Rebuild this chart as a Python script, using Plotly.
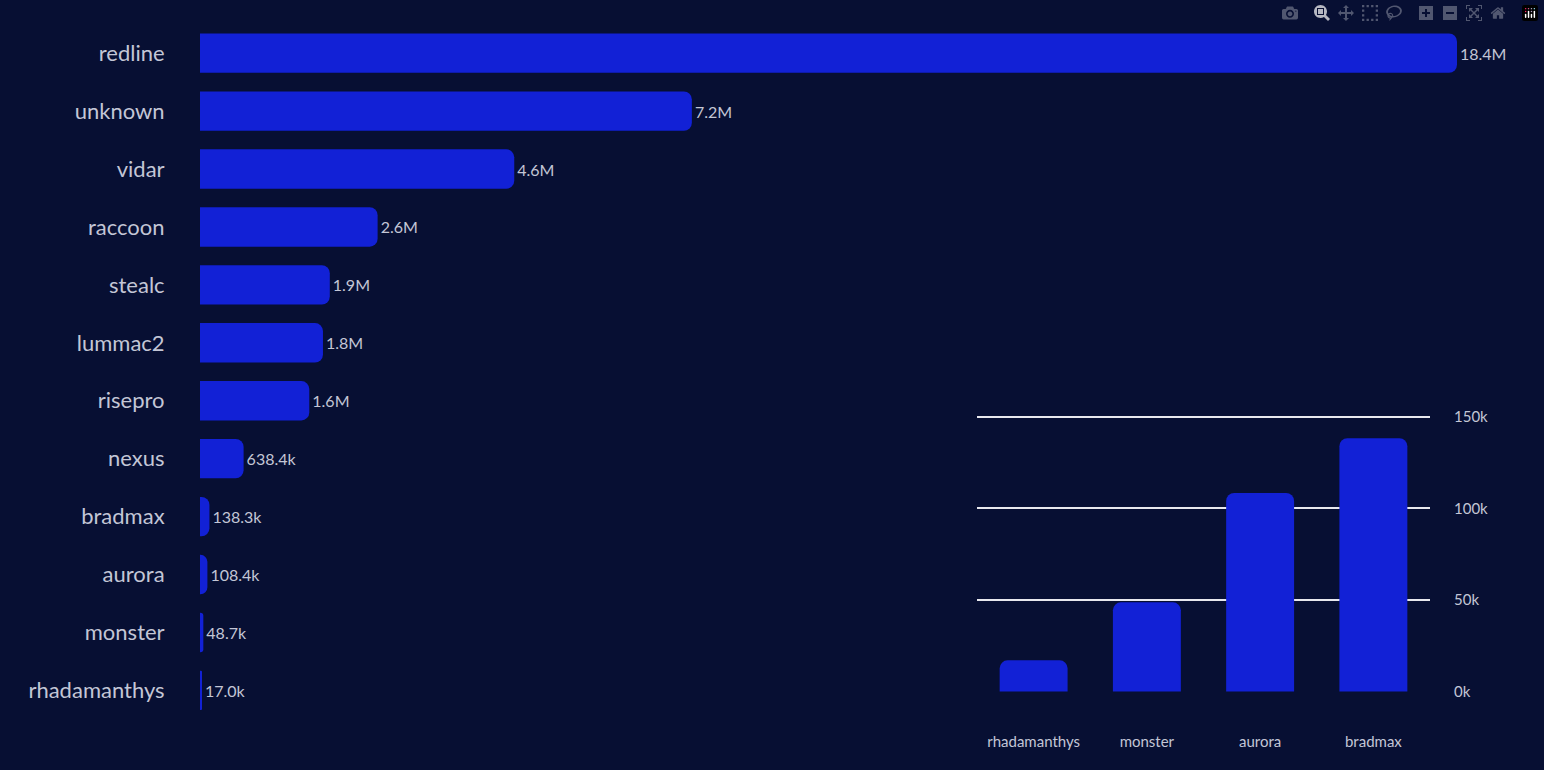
import plotly.graph_objects as go

names = ["redline","unknown","vidar","raccoon","stealc","lummac2","risepro","nexus","bradmax","aurora","monster","rhadamanthys"]
values = [18.4e6,7.2e6,4.6e6,2.6e6,1.9e6,1.8e6,1.6e6,638.4e3,138.3e3,108.4e3,48.7e3,17.0e3]
labels = ["18.4M","7.2M","4.6M","2.6M","1.9M","1.8M","1.6M","638.4k","138.3k","108.4k","48.7k","17.0k"]

inset_names = ["rhadamanthys","monster","aurora","bradmax"]
inset_values = [17.0e3,48.7e3,108.4e3,138.3e3]

BG = "#070f33"
BAR = "#1221d6"
TXT = "#c3c6d6"
FONT = "Lato"

fig = go.Figure()
fig.add_trace(go.Bar(y=names, x=values, orientation="h", marker_color=BAR, marker_line_width=0,
                     text=labels, textposition="outside", cliponaxis=False,
                     textfont=dict(color=TXT, size=16, family=FONT),
                     xaxis="x", yaxis="y", showlegend=False))
fig.add_trace(go.Bar(x=inset_names, y=inset_values, marker_color=BAR, marker_line_width=0,
                     width=0.6, xaxis="x2", yaxis="y2", showlegend=False))

fig.update_layout(
    width=1544, height=770, margin=dict(l=0, r=0, t=0, b=0),
    paper_bgcolor=BG, plot_bgcolor="rgba(0,0,0,0)",
    barcornerradius=8, bargap=0.32,
    font=dict(family=FONT, color=TXT),
    xaxis=dict(domain=[200/1544, 1457/1544], range=[0, 18.4e6], visible=False, fixedrange=True),
    yaxis=dict(domain=[1-725.5/770, 1-16.5/770], autorange="reversed", showgrid=False,
               ticks="outside", ticklen=30, tickcolor="rgba(0,0,0,0)",
               tickfont=dict(size=22, color=TXT, family=FONT)),
    xaxis2=dict(domain=[977/1544, 1430/1544], anchor="y2", showgrid=False, showline=False,
                ticks="outside", ticklen=36, tickcolor="rgba(0,0,0,0)",
                tickfont=dict(size=15, color=TXT, family=FONT)),
    yaxis2=dict(domain=[1-698/770, 1-415/770], anchor="x2", range=[-500, 151000], side="right",
                tickvals=[0, 50000, 100000, 150000], ticktext=["0k","50k","100k","150k"],
                showgrid=True, gridcolor="#e8e8ee", gridwidth=1.5, zeroline=False,
                ticks="outside", ticklen=20, tickcolor="rgba(0,0,0,0)",
                tickfont=dict(size=15, color=TXT, family=FONT)),
)
fig.write_html("out.html", post_script="document.body.style.margin='0';document.body.style.background='#070f33';window.dispatchEvent(new Event('resize'));")
